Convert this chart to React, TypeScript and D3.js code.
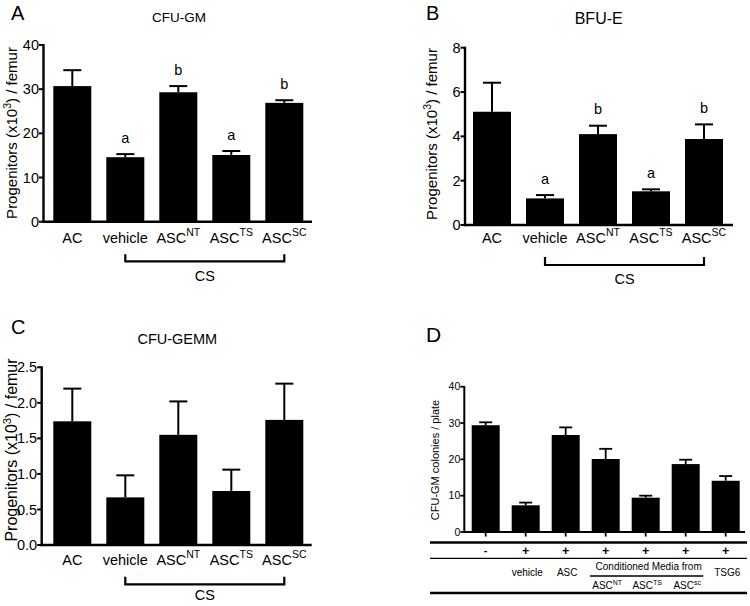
import React from "react";
import * as d3 from "d3";

// ---------- data ----------
const catBase = ["AC", "vehicle", "ASC", "ASC", "ASC"];
const catSup = ["", "", "NT", "TS", "SC"];

const cfuGmMean = [30.7, 14.6, 29.3, 15.1, 26.9];
const cfuGmErr = [3.6, 0.7, 1.4, 0.9, 0.6];
const cfuGmLetters = ["", "a", "b", "a", "b"];
const cfuGmTicks = [0, 10, 20, 30, 40];

const bfuEMean = [5.11, 1.2, 4.1, 1.52, 3.88];
const bfuEErr = [1.31, 0.15, 0.38, 0.09, 0.66];
const bfuELetters = ["", "a", "b", "a", "b"];
const bfuETicks = [0, 2, 4, 6, 8];

const gemmMean = [1.74, 0.67, 1.55, 0.76, 1.76];
const gemmErr = [0.46, 0.31, 0.47, 0.3, 0.51];
const gemmLetters = ["", "", "", "", ""];
const gemmTicks = [0, 0.5, 1.0, 1.5, 2.0, 2.5];

const dGroups = ["g1", "g2", "g3", "g4", "g5", "g6", "g7"];
const dMean = [29.4, 7.35, 26.7, 20.1, 9.45, 18.7, 14.1];
const dErr = [0.8, 0.75, 2.1, 2.8, 0.55, 1.2, 1.3];
const dSigns = ["-", "+", "+", "+", "+", "+", "+"];
const dTicks = [0, 10, 20, 30, 40];
const dLabelBase = ["", "vehicle", "ASC", "", "", "", "TSG6"];
const dCmBase = ["ASC", "ASC", "ASC"];
const dCmSup = ["NT", "TS", "sc"];

const FONT = "Arial, 'Liberation Sans', Helvetica, sans-serif";

type PanelProps = {
  axisX: number;
  yPxTop: number;
  yPxBottom: number;
  domainMax: number;
  ticks: number[];
  tickFmt: (v: number) => string;
  xAxisEnd: number;
  bandStart: number;
  bandEnd: number;
  means: number[];
  errs: number[];
  letters: string[];
  catBaseline: number;
  bracketY: number;
  bracketTop: number;
  csBaseline: number;
  title: string;
  titleX: number;
  titleY: number;
  titleSize: number;
  letter: string;
  letterX: number;
  letterY: number;
  ylabX: number;
  ylabY: number;
  ylabSize: number;
};

function Panel(p: PanelProps) {
  const y = d3.scaleLinear().domain([0, p.domainMax]).range([p.yPxBottom, p.yPxTop]);
  const x = d3
    .scaleBand<string>()
    .domain(catBase.map((c, i) => c + catSup[i]))
    .range([p.bandStart, p.bandEnd])
    .paddingInner(0.283)
    .paddingOuter(0);
  const keys = catBase.map((c, i) => c + catSup[i]);
  const bw = x.bandwidth();
  const cap = 18;
  const cx = (i: number) => (x(keys[i]) as number) + bw / 2;
  return (
    <g fontFamily={FONT}>
      <text x={p.letterX} y={p.letterY} fontSize={20}>
        {p.letter}
      </text>
      <text x={p.titleX} y={p.titleY} fontSize={p.titleSize} textAnchor="middle">
        {p.title}
      </text>
      {/* bars */}
      {p.means.map((m, i) => (
        <g key={i}>
          <line
            x1={cx(i)}
            x2={cx(i)}
            y1={y(m)}
            y2={y(m + p.errs[i])}
            stroke="#000"
            strokeWidth={2}
          />
          <line
            x1={cx(i) - cap / 2}
            x2={cx(i) + cap / 2}
            y1={y(m + p.errs[i])}
            y2={y(m + p.errs[i])}
            stroke="#000"
            strokeWidth={2}
          />
          <rect x={x(keys[i])} y={y(m)} width={bw} height={y(0) - y(m)} fill="#000" />
          {p.letters[i] && (
            <text
              x={cx(i)}
              y={y(m + p.errs[i]) - 11.5}
              fontSize={14.5}
              textAnchor="middle"
            >
              {p.letters[i]}
            </text>
          )}
          <text x={cx(i)} y={p.catBaseline} fontSize={14.5} textAnchor="middle">
            {catBase[i]}
            {catSup[i] && (
              <tspan dy={-7} fontSize={10.5}>
                {catSup[i]}
              </tspan>
            )}
          </text>
        </g>
      ))}
      {/* axes */}
      <line
        x1={p.axisX}
        x2={p.axisX}
        y1={p.yPxTop - 1}
        y2={p.yPxBottom + 1.2}
        stroke="#000"
        strokeWidth={2.4}
      />
      <line
        x1={p.axisX - 1.2}
        x2={p.xAxisEnd}
        y1={p.yPxBottom}
        y2={p.yPxBottom}
        stroke="#000"
        strokeWidth={2.4}
      />
      {p.ticks.map((t) => (
        <g key={t}>
          <line
            x1={p.axisX - 4.5}
            x2={p.axisX}
            y1={y(t)}
            y2={y(t)}
            stroke="#000"
            strokeWidth={2}
          />
          <text
            x={p.axisX - 4.5}
            y={y(t)}
            dy="0.35em"
            fontSize={14.5}
            textAnchor="end"
          >
            {p.tickFmt(t)}
          </text>
        </g>
      ))}
      <text
        transform={`translate(${p.ylabX},${p.ylabY}) rotate(-90)`}
        fontSize={p.ylabSize}
        textAnchor="middle"
      >
        Progenitors (x10
        <tspan dy={-6} fontSize={p.ylabSize * 0.7}>
          3
        </tspan>
        <tspan dy={6}>) / femur</tspan>
      </text>
      {/* CS bracket */}
      <path
        d={`M${cx(1)},${p.bracketTop}V${p.bracketY}H${cx(4)}V${p.bracketTop}`}
        fill="none"
        stroke="#000"
        strokeWidth={2.2}
      />
      <text x={(cx(1) + cx(4)) / 2} y={p.csBaseline} fontSize={14.5} textAnchor="middle">
        CS
      </text>
    </g>
  );
}

function PanelD() {
  const axisX = 464.3;
  const y = d3.scaleLinear().domain([0, 40]).range([532, 386.7]);
  const x = d3.scaleBand<string>().domain(dGroups).range([471.7, 739.7]).paddingInner(0.3);
  const bw = x.bandwidth();
  const cx = (i: number) => (x(dGroups[i]) as number) + bw / 2;
  const cap = 13;
  const cmLeft = 590;
  const cmRight = 703.3;
  return (
    <g fontFamily={FONT}>
      <text x={426} y={342} fontSize={21}>
        D
      </text>
      {dMean.map((m, i) => (
        <g key={i}>
          <line x1={cx(i)} x2={cx(i)} y1={y(m)} y2={y(m + dErr[i])} stroke="#000" strokeWidth={1.8} />
          <line
            x1={cx(i) - cap / 2}
            x2={cx(i) + cap / 2}
            y1={y(m + dErr[i])}
            y2={y(m + dErr[i])}
            stroke="#000"
            strokeWidth={1.8}
          />
          <rect x={x(dGroups[i])} y={y(m)} width={bw} height={y(0) - y(m)} fill="#000" />
          <line x1={cx(i)} x2={cx(i)} y1={532} y2={536.5} stroke="#000" strokeWidth={1.8} />
          <text
            x={cx(i)}
            y={550.5}
            dy="0.35em"
            fontSize={dSigns[i] === "-" ? 11 : 12.5}
            fontWeight="bold"
            textAnchor="middle"
          >
            {dSigns[i]}
          </text>
          {dLabelBase[i] && (
            <text x={cx(i) + 1.5} y={575.7} fontSize={10} textAnchor="middle">
              {dLabelBase[i]}
            </text>
          )}
        </g>
      ))}
      <line x1={axisX} x2={axisX} y1={386} y2={533} stroke="#000" strokeWidth={2} />
      <line x1={axisX - 1} x2={745} y1={532} y2={532} stroke="#000" strokeWidth={2} />
      {dTicks.map((t) => (
        <g key={t}>
          <line x1={axisX - 4} x2={axisX} y1={y(t)} y2={y(t)} stroke="#000" strokeWidth={1.8} />
          <text x={axisX - 4} y={y(t)} dy="0.35em" fontSize={10.5} textAnchor="end">
            {t}
          </text>
        </g>
      ))}
      <text
        transform={`translate(438.5,460) rotate(-90)`}
        fontSize={11}
        textAnchor="middle"
      >
        CFU-GM colonies / plate
      </text>
      {/* table */}
      <line x1={430} x2={747} y1={542.5} y2={542.5} stroke="#000" strokeWidth={2.4} />
      <line x1={430} x2={747} y1={558.3} y2={558.3} stroke="#000" strokeWidth={1.3} />
      <line x1={430} x2={747} y1={593} y2={593} stroke="#000" strokeWidth={2.4} />
      <text x={(cmLeft + cmRight) / 2 + 2} y={570} fontSize={10} textAnchor="middle">
        Conditioned Media from
      </text>
      <line x1={cmLeft} x2={cmRight} y1={576} y2={576} stroke="#000" strokeWidth={1.6} />
      {dCmBase.map((b, k) => (
        <text key={k} x={cx(3 + k) + 1.5} y={589.3} fontSize={10} textAnchor="middle">
          {b}
          <tspan dy={-4.5} fontSize={7}>
            {dCmSup[k]}
          </tspan>
        </text>
      ))}
    </g>
  );
}

export default function App() {
  return (
    <svg
      width={750}
      height={606}
      style={{ position: "absolute", left: 0, top: 0, background: "#fff" }}
    >
      <rect width={750} height={606} fill="#fff" />
      <Panel
        axisX={43.5}
        yPxTop={45}
        yPxBottom={221.7}
        domainMax={40}
        ticks={cfuGmTicks}
        tickFmt={(v) => String(v)}
        xAxisEnd={312}
        bandStart={53.3}
        bandEnd={303.3}
        means={cfuGmMean}
        errs={cfuGmErr}
        letters={cfuGmLetters}
        catBaseline={243.3}
        bracketY={261.3}
        bracketTop={254.3}
        csBaseline={281}
        title="CFU-GM"
        titleX={179}
        titleY={21.7}
        titleSize={13.5}
        letter="A"
        letterX={11}
        letterY={20}
        ylabX={16.5}
        ylabY={133}
        ylabSize={15}
      />
      <Panel
        axisX={465}
        yPxTop={47.7}
        yPxBottom={225}
        domainMax={8}
        ticks={bfuETicks}
        tickFmt={(v) => String(v)}
        xAxisEnd={733}
        bandStart={473}
        bandEnd={723}
        means={bfuEMean}
        errs={bfuEErr}
        letters={bfuELetters}
        catBaseline={243.3}
        bracketY={265}
        bracketTop={257}
        csBaseline={283.5}
        title="BFU-E"
        titleX={598.7}
        titleY={24}
        titleSize={16}
        letter="B"
        letterX={426}
        letterY={19.5}
        ylabX={437}
        ylabY={134}
        ylabSize={15}
      />
      <Panel
        axisX={41.7}
        yPxTop={367.3}
        yPxBottom={545}
        domainMax={2.5}
        ticks={gemmTicks}
        tickFmt={(v) => v.toFixed(1)}
        xAxisEnd={311.7}
        bandStart={53.3}
        bandEnd={303.3}
        means={gemmMean}
        errs={gemmErr}
        letters={gemmLetters}
        catBaseline={565}
        bracketY={584.3}
        bracketTop={576.7}
        csBaseline={600}
        title="CFU-GEMM"
        titleX={177.3}
        titleY={344.3}
        titleSize={14.5}
        letter="C"
        letterX={11}
        letterY={333.5}
        ylabX={17}
        ylabY={450}
        ylabSize={16}
      />
      <PanelD />
    </svg>
  );
}
